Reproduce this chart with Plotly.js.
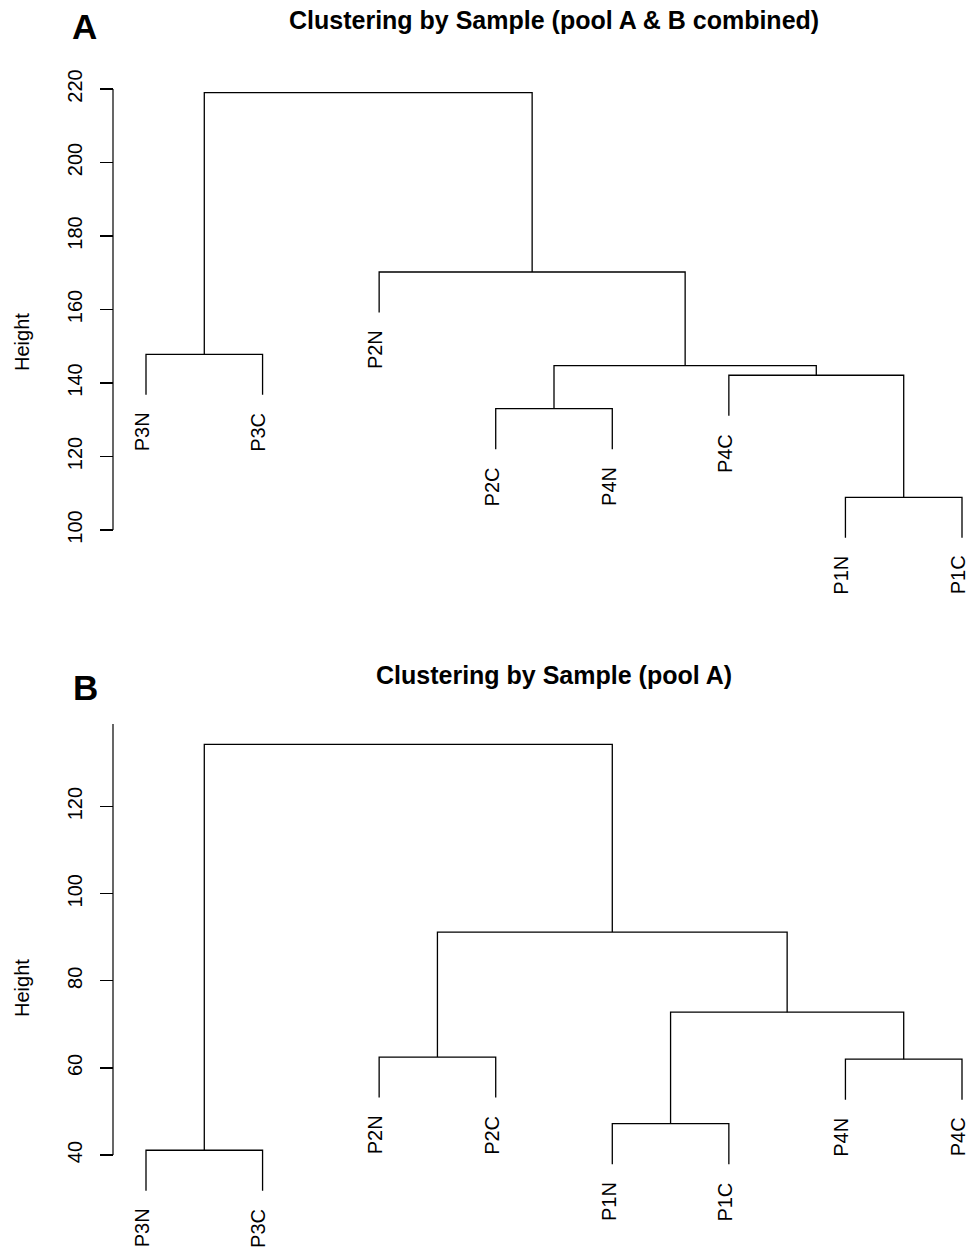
<!DOCTYPE html>
<html>
<head>
<meta charset="utf-8">
<script src="https://cdn.plot.ly/plotly-3.0.1.min.js"></script>
<style>html,body{margin:0;padding:0;background:#fff;}#chart{width:968px;height:1249px;}</style>
</head>
<body>
<div id="chart"></div>
<script>
// ---- Panel A data (leaf labels in display order, hclust-style merges) ----
var labelsA = ['P3N','P3C','P2N','P2C','P4N','P4C','P1N','P1C'];
var mergeLeftA  = [-7, -4, -6, 2, -1, -3, 5];
var mergeRightA = [-8, -5,  1, 3, -2,  4, 6];
var heightsA    = [108.9, 133.0, 142.1, 144.7, 147.8, 170.2, 219.0];
var ticksA = [100, 120, 140, 160, 180, 200, 220];
var titleA = 'Clustering by Sample (pool A & B combined)';

// ---- Panel B data ----
var labelsB = ['P3N','P3C','P2N','P2C','P1N','P1C','P4N','P4C'];
var mergeLeftB  = [-1, -5, -7, -3, 2, 4, 1];
var mergeRightB = [-2, -6, -8, -4, 3, 5, 6];
var heightsB    = [41.1, 47.2, 62.0, 62.5, 72.8, 91.2, 134.3];
var ticksB = [40, 60, 80, 100, 120];
var titleB = 'Clustering by Sample (pool A)';

var FONT = 'Liberation Sans, Arial, Helvetica, sans-serif';

function dendro(labels, ml, mr, h, xa, ya) {
  var hmin = Math.min.apply(null, h), hmax = Math.max.apply(null, h);
  var hang = 0.1 * (hmax - hmin);
  var nodeX = [], xs = [], ys = [], leafBottom = {};
  function childX(c) { return c < 0 ? (-c) : nodeX[c - 1]; }
  function childBottom(c, parentH) {
    if (c < 0) { leafBottom[-c] = parentH - hang; return parentH - hang; }
    return h[c - 1];
  }
  for (var k = 0; k < h.length; k++) {
    var xl = childX(ml[k]), xr = childX(mr[k]);
    var yl = childBottom(ml[k], h[k]), yr = childBottom(mr[k], h[k]);
    xs.push(xl, xl, xr, xr, null);
    ys.push(yl, h[k], h[k], yr, null);
    nodeX[k] = (xl + xr) / 2;
  }
  var trace = {x: xs, y: ys, mode: 'lines', type: 'scatter', xaxis: xa, yaxis: ya,
    line: {color: '#000', width: 1.3}, hoverinfo: 'skip', connectgaps: false};
  var anns = labels.map(function (lab, i) {
    return {x: i + 1, y: leafBottom[i + 1], xref: xa, yref: ya, text: lab, showarrow: false,
      textangle: -90, xanchor: 'center', yanchor: 'top', yshift: -16, xshift: -4,
      font: {family: FONT, size: 20, color: '#000'}};
  });
  return {trace: trace, anns: anns};
}

var A = dendro(labelsA, mergeLeftA, mergeRightA, heightsA, 'x', 'y');
var B = dendro(labelsB, mergeLeftB, mergeRightB, heightsB, 'x2', 'y2');

var axX = 113 / 968;
function yax(domain, range, ticks) {
  return {domain: domain, range: range, anchor: 'free', position: axX, tickvals: ticks,
    ticktext: ticks.map(String), ticks: 'outside', ticklen: 13, tickwidth: 1.2, tickcolor: '#000',
    tickangle: -90, showgrid: false, zeroline: false, showline: false, ticklabelstandoff: 10,
    tickfont: {family: FONT, size: 20, color: '#000'}, fixedrange: true};
}
function xax(anchor) {
  return {domain: [0, 1], range: [-0.2525, 8.0515], visible: false, anchor: anchor, fixedrange: true};
}

var annotations = A.anns.concat(B.anns).concat([
  {xref: 'paper', yref: 'paper', x: 553.5 / 968, y: 1 - 20 / 1249, text: titleA, showarrow: false,
   xanchor: 'center', yanchor: 'middle', font: {family: FONT, size: 25, color: '#000', weight: 'bold'}},
  {xref: 'paper', yref: 'paper', x: 554 / 968, y: 1 - 675 / 1249, text: titleB, showarrow: false,
   xanchor: 'center', yanchor: 'middle', font: {family: FONT, size: 25, color: '#000', weight: 'bold'}},
  {xref: 'paper', yref: 'paper', x: 84 / 968, y: 1 - 27 / 1249, text: 'A', showarrow: false,
   xanchor: 'center', yanchor: 'middle', font: {family: FONT, size: 35, color: '#000', weight: 'bold'}},
  {xref: 'paper', yref: 'paper', x: 85 / 968, y: 1 - 688 / 1249, text: 'B', showarrow: false,
   xanchor: 'center', yanchor: 'middle', font: {family: FONT, size: 35, color: '#000', weight: 'bold'}},
  {xref: 'paper', yref: 'paper', x: 22 / 968, y: 1 - 342 / 1249, text: 'Height', showarrow: false,
   textangle: -90, xanchor: 'center', yanchor: 'middle', font: {family: FONT, size: 20, color: '#000'}},
  {xref: 'paper', yref: 'paper', x: 22 / 968, y: 1 - 988 / 1249, text: 'Height', showarrow: false,
   textangle: -90, xanchor: 'center', yanchor: 'middle', font: {family: FONT, size: 20, color: '#000'}}
]);

var shapes = [
  {type: 'line', xref: 'paper', yref: 'y', x0: axX, x1: axX, y0: ticksA[0], y1: ticksA[ticksA.length - 1],
   line: {color: '#000', width: 1.2}},
  {type: 'line', xref: 'paper', yref: 'y2', x0: axX, x1: axX, y0: ticksB[0], y1: 139.0,
   line: {color: '#000', width: 1.2}}
];

var layout = {
  width: 968, height: 1249, margin: {l: 0, r: 0, t: 0, b: 0},
  paper_bgcolor: '#fff', plot_bgcolor: '#fff', showlegend: false,
  xaxis: xax('y'), xaxis2: xax('y2'),
  yaxis: yax([0.5036, 0.952], [75.51, 227.89], ticksA),
  yaxis2: yax([0, 0.4275], [18.42, 141.03], ticksB),
  annotations: annotations, shapes: shapes
};

Plotly.newPlot('chart', [A.trace, B.trace], layout, {staticPlot: true, displayModeBar: false});
</script>
</body>
</html>
